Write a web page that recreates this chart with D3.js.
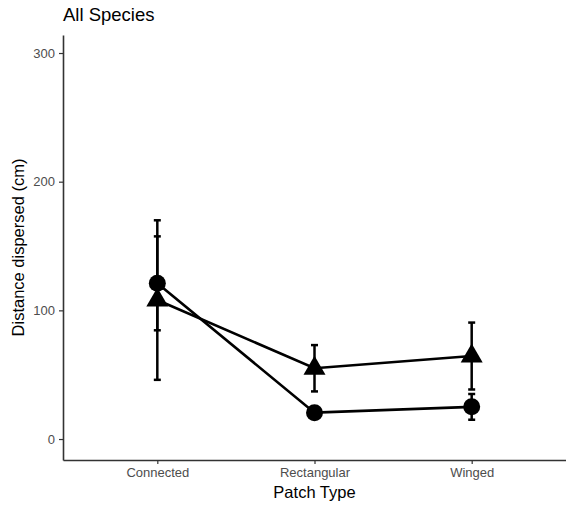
<!DOCTYPE html>
<html>
<head>
<meta charset="utf-8">
<script src="https://cdn.jsdelivr.net/npm/d3@7"></script>
<style>
  body { margin: 0; background: #fff; }
  text { font-family: "Liberation Sans", Arial, sans-serif; }
</style>
</head>
<body>
<div id="chart"></div>
<script>
// data
const patchTypes = ["Connected", "Rectangular", "Winged"]
const circleMeans = [121, 20.5, 25]
const circleErr = [36.5, 3, 10]
const triangleMeans = [108, 55, 64.5]
const triangleErr = [62, 18, 26]
const yTicks = [0, 100, 200, 300]

const width = 566, height = 507
const margin = {top: 35, right: 0, bottom: 47, left: 63}

const svg = d3.select("#chart").append("svg")
    .attr("width", width)
    .attr("height", height)

const x = d3.scalePoint()
    .domain(patchTypes)
    .range([margin.left, width])
    .padding(0.6)

const y = d3.scaleLinear()
    .domain([-16.3, 314])
    .range([height - margin.bottom, margin.top])

// axes
const yAxis = svg.append("g")
    .attr("transform", `translate(${margin.left},0)`)
    .call(d3.axisLeft(y).tickValues(yTicks).tickSize(4).tickPadding(4).tickSizeOuter(0))
yAxis.select(".domain").attr("stroke", "#333").attr("stroke-width", 1.6)
yAxis.selectAll(".tick line").attr("stroke", "#333").attr("stroke-width", 1.2)
yAxis.selectAll(".tick text").attr("fill", "#4d4d4d").style("font-size", "13px")

const xAxis = svg.append("g")
    .attr("transform", `translate(0,${height - margin.bottom})`)
    .call(d3.axisBottom(x).tickSize(4).tickPadding(4).tickSizeOuter(0))
xAxis.select(".domain").attr("stroke", "#333").attr("stroke-width", 1.6)
xAxis.selectAll(".tick line").attr("stroke", "#333").attr("stroke-width", 1.2)
xAxis.selectAll(".tick text").attr("fill", "#4d4d4d").style("font-size", "13px")

// series
const series = [
    {shape: "circle", means: circleMeans, err: circleErr},
    {shape: "triangle", means: triangleMeans, err: triangleErr}
]

const line = d3.line()
    .x((d, i) => x(patchTypes[i]))
    .y(d => y(d))

series.forEach(s => {
    const g = svg.append("g")

    // error bars
    const bars = g.selectAll(".err")
        .data(s.means)
        .enter()
        .append("g")
        .attr("class", "err")
    bars.append("line")
        .attr("x1", (d, i) => x(patchTypes[i]))
        .attr("x2", (d, i) => x(patchTypes[i]))
        .attr("y1", (d, i) => y(d - s.err[i]))
        .attr("y2", (d, i) => y(d + s.err[i]))
        .attr("stroke", "#000").attr("stroke-width", 2.5)
    ;[-1, 1].forEach(sign => {
        bars.append("line")
            .attr("x1", (d, i) => x(patchTypes[i]) - 3.5)
            .attr("x2", (d, i) => x(patchTypes[i]) + 3.5)
            .attr("y1", (d, i) => y(d + sign * s.err[i]))
            .attr("y2", (d, i) => y(d + sign * s.err[i]))
            .attr("stroke", "#000").attr("stroke-width", 2.5)
    })

    g.append("path")
        .datum(s.means)
        .attr("d", line)
        .attr("fill", "none")
        .attr("stroke", "#000")
        .attr("stroke-width", 2.6)

    if (s.shape === "circle") {
        g.selectAll("circle")
            .data(s.means)
            .enter()
            .append("circle")
            .attr("cx", (d, i) => x(patchTypes[i]))
            .attr("cy", d => y(d))
            .attr("r", 8.5)
            .attr("fill", "#000")
    } else {
        g.selectAll(".tri")
            .data(s.means)
            .enter()
            .append("path")
            .attr("class", "tri")
            .attr("transform", (d, i) => `translate(${x(patchTypes[i])},${y(d)})`)
            .attr("d", "M0,-12.5L11,6.5L-11,6.5Z")
            .attr("fill", "#000")
    }
})

// titles
svg.append("text")
    .attr("x", margin.left)
    .attr("y", 21)
    .style("font-size", "18.5px")
    .attr("fill", "#000")
    .text("All Species")

svg.append("text")
    .attr("transform", `translate(24,${(margin.top + height - margin.bottom) / 2}) rotate(-90)`)
    .attr("text-anchor", "middle")
    .style("font-size", "16.5px")
    .attr("fill", "#000")
    .text("Distance dispersed (cm)")

svg.append("text")
    .attr("x", x("Rectangular"))
    .attr("y", 498)
    .attr("text-anchor", "middle")
    .style("font-size", "16.5px")
    .attr("fill", "#000")
    .text("Patch Type")
</script>
</body>
</html>
